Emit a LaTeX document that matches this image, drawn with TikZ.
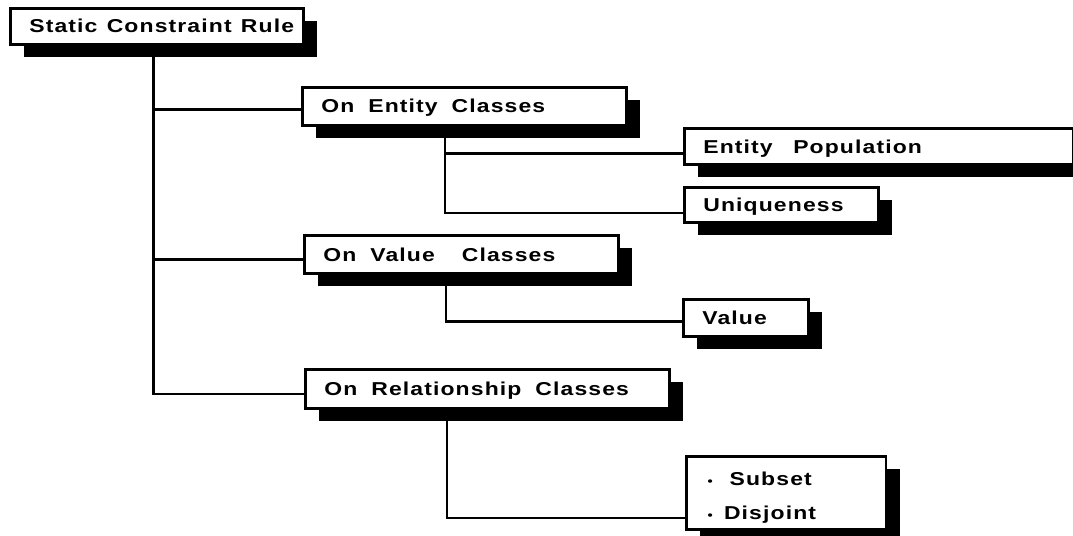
\documentclass[tikz,border=0pt]{standalone}
\usepackage{fontspec}
\setmainfont{Liberation Sans}[FakeStretch=1.23,LetterSpace=6]
\usetikzlibrary{shadows,calc}
\newcommand\boxfont{\fontsize{14}{25.5}\selectfont\bfseries}
\newcommand\wgap{\hspace{0.75em}}

\begin{document}
\begin{tikzpicture}[
    x=0.75pt, y=-0.75pt,
    rulebox/.style={rectangle, draw=black, line width=2pt, fill=white, anchor=north west, align=left, inner xsep=14.25pt, inner ysep=0pt, text height=10pt, text depth=0pt, font=\boxfont, drop shadow={shadow xshift=10.5pt, shadow yshift=-9.75pt, fill=black, opacity=1}},
    link/.style={line width=1.8pt, black}
]
\useasboundingbox (0,0) rectangle (1073,535);

\node[rulebox, text width=191.25pt, minimum height=27pt] (root) at (9,7) {\mbox{Static\hspace{0.5em}Constraint\hspace{0.5em}Rule}};
\node[rulebox, text width=214.5pt, minimum height=28.5pt] (ent) at (301,86) {On\wgap Entity\wgap Classes};
\node[rulebox, text width=263.25pt, minimum height=27pt] (pop) at (683,127) {Entity\hspace{1.1em}Population};
\node[rulebox, text width=117pt, minimum height=26.25pt] (uniq) at (683,186) {Uniqueness};
\node[rulebox, text width=207pt, minimum height=28.5pt] (val) at (303,234) {On\wgap Value\hspace{1.45em}Classes};
\node[rulebox, text width=65.25pt, minimum height=27.75pt] (value) at (682,298) {Value};
\node[rulebox, text width=244.5pt, minimum height=29.25pt] (rel) at (304,368) {On\wgap Relationship\wgap Classes};
\node[rulebox, text width=117.75pt, minimum height=54.75pt, inner xsep=16pt, text height=14.5pt, text depth=25.5pt] (subdis) at (685,455) {{\small\textbullet}\hspace{0.9em}Subset\\{\small\textbullet}\hspace{0.6em}Disjoint};

% tree lines
\foreach \n/\dy in {ent/-2.25pt, val/-3.75pt, rel/-4pt}
    \draw[link] ([xshift=-2.6pt]root.south) |- ([yshift=\dy]\n.west);
\draw[link] ([xshift=108pt]ent.south west) |- ([yshift=-5.25pt]pop.west);
\draw[link] ([xshift=108pt]ent.south west) |- ([yshift=-6pt]uniq.west);
\draw[link] ([xshift=107.25pt]val.south west) |- ([yshift=-2.6pt]value.west);
\draw[link] ([xshift=107.25pt]rel.south west) |- ([yshift=-19pt]subdis.west);

\end{tikzpicture}
\end{document}
